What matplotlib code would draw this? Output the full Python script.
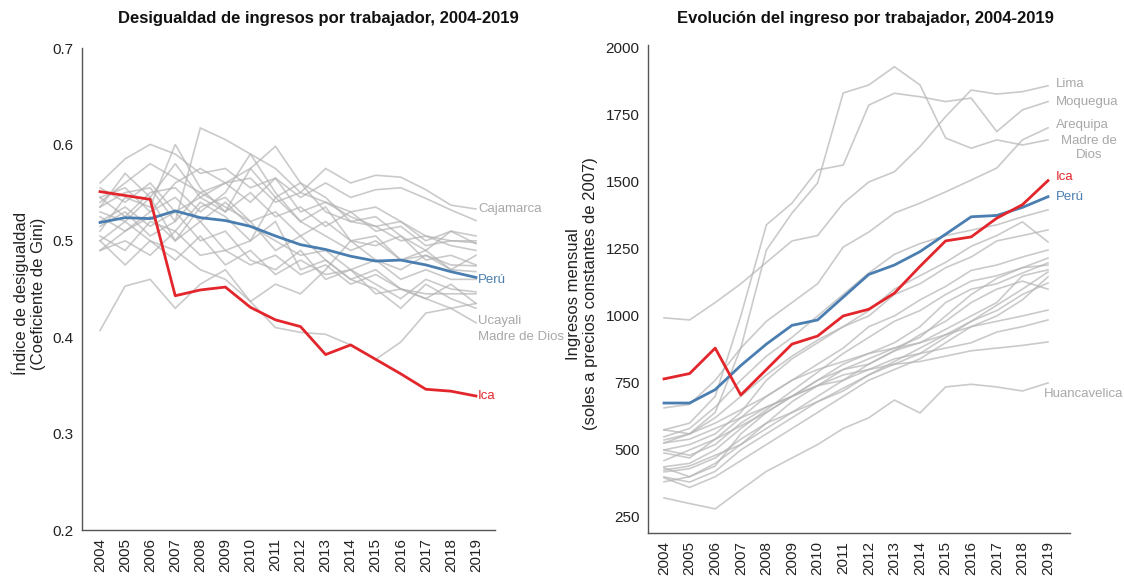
import matplotlib
matplotlib.use("Agg")
import matplotlib.pyplot as plt

plt.rcParams['font.family'] = ['Liberation Sans', 'DejaVu Sans']

years = list(range(2004, 2020))
year_labels = [str(y) for y in years]

# ---------------- Left panel: Gini coefficient ----------------
gini_peru = [0.519, 0.524, 0.523, 0.531, 0.524, 0.521, 0.515, 0.505, 0.496, 0.491,
             0.484, 0.479, 0.480, 0.475, 0.468, 0.462]
gini_ica = [0.551, 0.547, 0.543, 0.443, 0.449, 0.452, 0.431, 0.418, 0.411, 0.382,
            0.392, 0.377, 0.362, 0.346, 0.344, 0.339]
gini_cajamarca = [0.545, 0.555, 0.530, 0.560, 0.575, 0.560, 0.565, 0.540, 0.550, 0.575,
                  0.560, 0.568, 0.566, 0.553, 0.537, 0.533]
gini_ucayali = [0.490, 0.510, 0.525, 0.500, 0.535, 0.545, 0.520, 0.490, 0.505, 0.480,
                0.460, 0.450, 0.430, 0.455, 0.440, 0.430]
gini_madre_de_dios = [0.500, 0.520, 0.500, 0.490, 0.470, 0.460, 0.437, 0.410, 0.405, 0.403,
                      0.392, 0.377, 0.395, 0.425, 0.430, 0.415]
gini_otros = [
    [0.560, 0.585, 0.600, 0.590, 0.570, 0.575, 0.555, 0.565, 0.545, 0.560, 0.545, 0.553, 0.555, 0.544, 0.532, 0.521],
    [0.535, 0.550, 0.555, 0.520, 0.617, 0.605, 0.590, 0.575, 0.550, 0.540, 0.530, 0.535, 0.520, 0.505, 0.500, 0.498],
    [0.510, 0.545, 0.535, 0.600, 0.555, 0.530, 0.575, 0.598, 0.560, 0.545, 0.520, 0.525, 0.505, 0.490, 0.510, 0.497],
    [0.407, 0.453, 0.460, 0.430, 0.455, 0.470, 0.437, 0.455, 0.445, 0.470, 0.500, 0.480, 0.470, 0.485, 0.475, 0.474],
    [0.520, 0.535, 0.515, 0.530, 0.500, 0.510, 0.480, 0.470, 0.490, 0.460, 0.470, 0.455, 0.440, 0.460, 0.450, 0.447],
    [0.530, 0.520, 0.545, 0.500, 0.520, 0.490, 0.500, 0.520, 0.470, 0.480, 0.460, 0.470, 0.450, 0.440, 0.455, 0.435],
    [0.540, 0.560, 0.580, 0.565, 0.550, 0.560, 0.575, 0.545, 0.560, 0.530, 0.520, 0.515, 0.500, 0.505, 0.495, 0.490],
    [0.505, 0.490, 0.520, 0.510, 0.540, 0.525, 0.500, 0.545, 0.520, 0.505, 0.490, 0.500, 0.480, 0.490, 0.470, 0.485],
    [0.490, 0.500, 0.485, 0.510, 0.485, 0.490, 0.475, 0.485, 0.465, 0.475, 0.455, 0.465, 0.450, 0.445, 0.445, 0.445],
    [0.555, 0.540, 0.560, 0.530, 0.545, 0.530, 0.550, 0.525, 0.535, 0.515, 0.530, 0.510, 0.515, 0.495, 0.500, 0.500],
    [0.525, 0.510, 0.530, 0.545, 0.520, 0.540, 0.515, 0.500, 0.485, 0.490, 0.470, 0.480, 0.460, 0.470, 0.460, 0.460],
    [0.515, 0.530, 0.505, 0.520, 0.550, 0.535, 0.520, 0.530, 0.505, 0.520, 0.500, 0.495, 0.505, 0.480, 0.485, 0.475],
    [0.535, 0.570, 0.545, 0.580, 0.545, 0.560, 0.540, 0.565, 0.530, 0.540, 0.525, 0.515, 0.520, 0.500, 0.510, 0.505],
    [0.500, 0.475, 0.500, 0.480, 0.505, 0.475, 0.490, 0.465, 0.480, 0.465, 0.470, 0.445, 0.450, 0.440, 0.430, 0.435],
    [0.545, 0.525, 0.550, 0.555, 0.530, 0.550, 0.590, 0.550, 0.520, 0.535, 0.500, 0.505, 0.480, 0.485, 0.470, 0.468],
]

# ---------------- Right panel: monthly income ----------------
ing_peru = [675, 675, 725, 815, 895, 965, 985, 1070, 1155, 1190, 1240, 1305, 1370, 1375, 1405, 1445]
ing_ica = [765, 785, 880, 705, 800, 895, 925, 1000, 1025, 1085, 1185, 1280, 1295, 1365, 1415, 1505]
ing_lima = [993, 985, 1050, 1120, 1200, 1280, 1300, 1420, 1500, 1538, 1632, 1744, 1843, 1828, 1837, 1859]
ing_moquegua = [575, 600, 700, 1000, 1340, 1421, 1545, 1563, 1787, 1831, 1818, 1800, 1813, 1688, 1769, 1800]
ing_arequipa = [657, 670, 760, 880, 980, 1050, 1120, 1257, 1313, 1384, 1421, 1463, 1507, 1552, 1657, 1702]
ing_madre_de_dios = [526, 560, 640, 880, 1246, 1384, 1496, 1832, 1862, 1930, 1862, 1664, 1626, 1657, 1638, 1657]
ing_huancavelica = [321, 300, 280, 351, 420, 470, 520, 580, 620, 686, 638, 735, 745, 735, 720, 750]
ing_otros = [
    [549, 580, 660, 760, 850, 920, 1000, 1080, 1160, 1230, 1270, 1300, 1320, 1340, 1370, 1396],
    [500, 520, 560, 640, 760, 840, 900, 960, 1020, 1100, 1150, 1200, 1260, 1300, 1351, 1276],
    [575, 560, 620, 700, 780, 850, 910, 960, 1000, 1080, 1120, 1180, 1220, 1280, 1300, 1321],
    [489, 470, 540, 620, 700, 760, 820, 880, 960, 1000, 1060, 1110, 1170, 1190, 1220, 1246],
    [437, 450, 500, 580, 650, 720, 790, 860, 920, 980, 1020, 1080, 1130, 1150, 1180, 1216],
    [433, 400, 440, 560, 640, 700, 760, 820, 860, 900, 960, 1050, 1100, 1120, 1160, 1198],
    [425, 440, 480, 520, 600, 680, 740, 800, 840, 880, 920, 1000, 1080, 1140, 1180, 1190],
    [418, 430, 470, 540, 600, 640, 700, 760, 820, 870, 900, 950, 1000, 1050, 1150, 1172],
    [399, 380, 420, 500, 560, 620, 680, 730, 780, 820, 860, 920, 980, 1040, 1100, 1164],
    [396, 360, 400, 460, 520, 580, 640, 700, 760, 800, 840, 900, 960, 1000, 1060, 1146],
    [381, 400, 450, 520, 580, 640, 680, 720, 780, 830, 880, 930, 980, 1020, 1080, 1123],
    [537, 560, 600, 650, 700, 760, 800, 830, 860, 880, 900, 930, 960, 980, 1000, 1022],
    [500, 480, 520, 600, 660, 700, 740, 780, 800, 840, 860, 880, 900, 940, 960, 985],
    [526, 540, 580, 620, 660, 700, 740, 760, 800, 820, 830, 850, 870, 880, 890, 903],
    [460, 500, 540, 590, 640, 700, 760, 800, 820, 870, 930, 980, 1050, 1100, 1130, 1100],
]

RED = '#e3262b'
BLUE = '#4a7eb0'
GRAY = '#b4b4b4'
LABEL_GRAY = '#a8a8a8'
SPINE = '#555555'

fig = plt.figure(figsize=(11.24, 5.76), dpi=100)
ax1 = fig.add_axes([82 / 1124, 46 / 576, 413 / 1124, 482 / 576])
ax2 = fig.add_axes([648 / 1124, 43 / 576, 422 / 1124, 487.7 / 576])


def style(ax):
    for s in ['top', 'right']:
        ax.spines[s].set_visible(False)
    for s in ['left', 'bottom']:
        ax.spines[s].set_color(SPINE)
        ax.spines[s].set_linewidth(1.0)
    ax.tick_params(axis='both', length=0, labelsize=11, colors='#222222', pad=6)
    ax.set_xticks(years)
    ax.set_xticklabels(year_labels, rotation=90)


gray_kw = dict(color=GRAY, lw=1.2, alpha=0.7, solid_joinstyle='miter')

# Left panel
for s in gini_otros + [gini_cajamarca, gini_ucayali, gini_madre_de_dios]:
    ax1.plot(years, s, **gray_kw)
ax1.plot(years, gini_peru, color=BLUE, lw=2.0)
ax1.plot(years, gini_ica, color=RED, lw=2.0)
ax1.set_ylim(0.2, 0.7)
ax1.set_xlim(2003.28, 2019.76)
ax1.set_yticks([0.2, 0.3, 0.4, 0.5, 0.6, 0.7])
ax1.set_yticklabels(['0.2', '0.3', '0.4', '0.5', '0.6', '0.7'])
style(ax1)
ax1.set_ylabel('Índice de desigualdad\n(Coeficiente de Gini)', fontsize=12, color='#222222')
ax1.yaxis.set_label_coords(-0.087, 0.49)

xt = 2019.08
ax1.text(xt, gini_cajamarca[-1], 'Cajamarca', color=LABEL_GRAY, fontsize=9.5, va='center', ha='left')
ax1.text(xt, gini_peru[-1] - 0.003, 'Perú', color=BLUE, fontsize=9.5, va='center', ha='left')
ax1.text(xt, gini_ucayali[-1] - 0.013, 'Ucayali', color=LABEL_GRAY, fontsize=9.5, va='center', ha='left')
ax1.text(xt, gini_madre_de_dios[-1] - 0.015, 'Madre de Dios', color=LABEL_GRAY, fontsize=9.5, va='center', ha='left')
ax1.text(xt, gini_ica[-1], 'Ica', color=RED, fontsize=9.5, va='center', ha='left')

# Right panel
for s in ing_otros + [ing_lima, ing_moquegua, ing_arequipa, ing_madre_de_dios, ing_huancavelica]:
    ax2.plot(years, s, **gray_kw)
ax2.plot(years, ing_peru, color=BLUE, lw=2.0)
ax2.plot(years, ing_ica, color=RED, lw=2.0)
ax2.set_ylim(190, 2010)
ax2.set_xlim(2003.375, 2019.86)
ax2.set_yticks([250, 500, 750, 1000, 1250, 1500, 1750, 2000])
style(ax2)
ax2.set_ylabel('Ingresos mensual\n(soles a precios constantes de 2007)', fontsize=12, color='#222222')
ax2.yaxis.set_label_coords(-0.118, 0.49)

xt2 = 2019.3
ax2.text(xt2, ing_lima[-1] + 7, 'Lima', color=LABEL_GRAY, fontsize=9.5, va='center', ha='left')
ax2.text(xt2, ing_moquegua[-1], 'Moquegua', color=LABEL_GRAY, fontsize=9.5, va='center', ha='left')
ax2.text(xt2, ing_arequipa[-1] + 10, 'Arequipa', color=LABEL_GRAY, fontsize=9.5, va='center', ha='left')
ax2.text(xt2 + 1.3, ing_madre_de_dios[-1] - 30, 'Madre de\nDios', color=LABEL_GRAY, fontsize=9.5,
         va='center', ha='center', linespacing=1.25)
ax2.text(xt2, ing_ica[-1] + 12, 'Ica', color=RED, fontsize=9.5, va='center', ha='left')
ax2.text(xt2, ing_peru[-1], 'Perú', color=BLUE, fontsize=9.5, va='center', ha='left')
ax2.text(2018.85, ing_huancavelica[-1] - 40, 'Huancavelica', color=LABEL_GRAY, fontsize=9.5, va='center', ha='left')

for a in (ax1, ax2):
    for t in a.texts:
        t.set_clip_on(False)

fig.text(318 / 1124, 1 - 18 / 576, 'Desigualdad de ingresos por trabajador, 2004-2019',
         ha='center', va='center', fontsize=12, fontweight='bold', color='#111111')
fig.text(865 / 1124, 1 - 18 / 576, 'Evolución del ingreso por trabajador, 2004-2019',
         ha='center', va='center', fontsize=12, fontweight='bold', color='#111111')

fig.savefig('out.png', dpi=100, facecolor='white')
